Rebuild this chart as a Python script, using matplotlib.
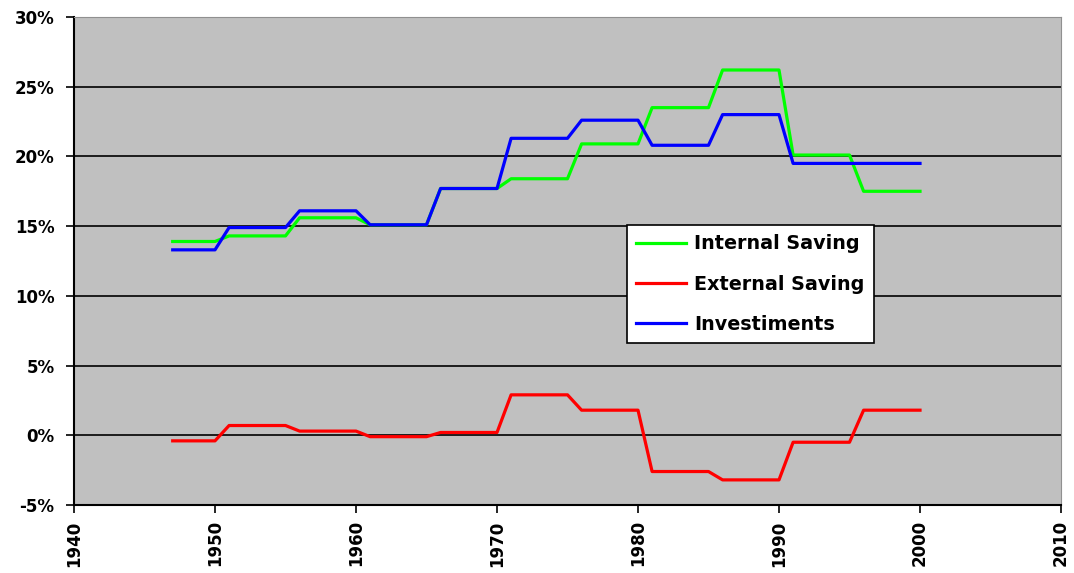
import numpy as np
import matplotlib.pyplot as plt
from matplotlib.ticker import FuncFormatter

# yearly values, % of GDP
years = list(range(1947, 2001))
internal_saving = [13.9] * 4 + [14.3] * 5 + [15.6] * 5 + [15.1] * 5 + [17.7] * 5 + \
    [18.4] * 5 + [20.9] * 5 + [23.5] * 5 + [26.2] * 5 + [20.1] * 5 + [17.5] * 5
external_saving = [-0.4] * 4 + [0.7] * 5 + [0.3] * 5 + [-0.1] * 5 + [0.2] * 5 + \
    [2.9] * 5 + [1.8] * 5 + [-2.6] * 5 + [-3.2] * 5 + [-0.5] * 5 + [1.8] * 5
investments = [13.3] * 4 + [14.9] * 5 + [16.1] * 5 + [15.1] * 5 + [17.7] * 5 + \
    [21.3] * 5 + [22.6] * 5 + [20.8] * 5 + [23.0] * 5 + [19.5] * 10

series_names = ["Internal Saving", "External Saving", "Investiments"]
series_colors = ["#00FF00", "#FF0000", "#0000FF"]

plt.rcParams['font.family'] = ['DejaVu Sans']
plt.rcParams['font.weight'] = 'bold'

fig = plt.figure(figsize=(10.74, 5.73), dpi=100)
ax = fig.add_axes([0.0689, 0.1187, 0.919, 0.8516])
ax.set_facecolor("#C0C0C0")

for vals, name, col in zip([internal_saving, external_saving, investments], series_names, series_colors):
    ax.plot(years, vals, color=col, lw=2.3, label=name, zorder=3)

ax.set_xlim(1940, 2010)
ax.set_ylim(-5, 30)
ax.set_xticks(np.arange(1940, 2011, 10))
ax.set_yticks(np.arange(-5, 31, 5))
ax.yaxis.set_major_formatter(FuncFormatter(lambda v, p: "%d%%" % v))
ax.grid(axis="y", color="black", lw=1.2, zorder=1)
ax.set_axisbelow(True)

ax.tick_params(axis="both", labelsize=12, width=1.2, length=6, direction="out", pad=8)
ax.tick_params(axis="x", labelrotation=90, pad=5)
for s in ["top", "right"]:
    ax.spines[s].set_color("#909090")
for s in ["left", "bottom"]:
    ax.spines[s].set_linewidth(1.5)

leg = ax.legend(loc="upper left", bbox_to_anchor=(0.560, 0.574), borderaxespad=0,
                fontsize=13.8, frameon=True, fancybox=False, edgecolor="black",
                facecolor="white", framealpha=1, handlelength=2.6, handletextpad=0.4,
                borderpad=0.5, labelspacing=1.1)
leg.get_frame().set_linewidth(1.2)

fig.savefig("out.png", dpi=100)
